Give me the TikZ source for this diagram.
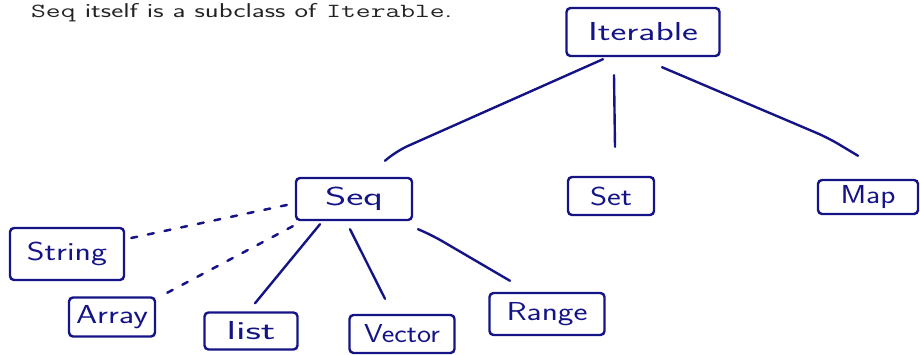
\documentclass[tikz,border=0pt]{standalone}
\usepackage{fontspec}
\usetikzlibrary{calc}
\definecolor{ink}{RGB}{20,20,135}
\definecolor{headgray}{RGB}{35,35,35}
\newcommand{\hw}[2]{\resizebox{#1pt}{\height}{#2}}
\tikzset{
  box/.style={draw=ink, line width=2.4pt, rounded corners=4pt, text=ink, font=\sffamily\fontsize{26}{26}\selectfont, inner sep=0pt},
  link/.style={draw=ink, line width=2.4pt, line cap=round, rounded corners=12pt},
  dotlink/.style={draw=ink, line width=2.5pt, line cap=round, dash pattern=on 6pt off 11pt}
}
\begin{document}
\begin{tikzpicture}[x=1pt,y=-1pt]
\useasboundingbox (0,0) rectangle (920,355);
\node[anchor=base west, inner sep=0pt, text=headgray, font=\sffamily\fontsize{20}{20}\selectfont] (head) at (31,18)
  {\resizebox{421pt}{\height}{\texttt{Seq} itself is a subclass of \texttt{Iterable}.}};
\node[box, minimum width=153pt, minimum height=48pt] (iter) at (643,32) {\hw{110}{Iterable}};
\node[box, minimum width=116pt, minimum height=42pt] (seq) at (354,199) {\hw{58}{Seq}};
\node[box, minimum width=86pt, minimum height=38pt] (set) at (611,196) {\hw{42}{Set}};
\node[box, minimum width=100pt, minimum height=34pt] (map) at (868,197) {\hw{55}{Map}};
\node[box, minimum width=114pt, minimum height=52pt] (string) at (67,254) {\hw{80}{String}};
\node[box, minimum width=86pt, minimum height=39pt] (array) at (112,317) {\hw{72}{Array}};
\node[box, minimum width=93pt, minimum height=37pt] (list) at (251,331) {\hw{49}{list}};
\node[box, minimum width=105pt, minimum height=38pt] (vector) at (402,334) {\hw{76}{Vector}};
\node[box, minimum width=115pt, minimum height=42pt] (range) at (547,314) {\hw{81}{Range}};
% Iterable children
\coordinate (a1) at ($(iter.south)+(-40,2)$);
\coordinate (a2) at ($(seq.north)+(31,-16)$);
\draw[link] (a1) -- ($(a2)+(12,-10)$) -- (a2);
\coordinate (b1) at ($(iter.south)+(-29,18)$);
\coordinate (b2) at ($(set.north)+(4,-29)$);
\draw[link] (b1) -- (b2);
\coordinate (c1) at ($(iter.south)+(19,10)$);
\coordinate (c2) at ($(map.north)+(-10,-23)$);
\draw[link] (c1) -- ($(c2)+(-30,-18)$) -- (c2);
% Seq children
\coordinate (d1) at ($(seq.south)+(-34,3)$);
\coordinate (d2) at ($(list.north)+(4,-8)$);
\draw[link] (d1) -- (d2);
\coordinate (e1) at ($(seq.south)+(-4,8)$);
\coordinate (e2) at ($(vector.north)+(-17,-15)$);
\draw[link] (e1) -- (e2);
\coordinate (f1) at ($(seq.south)+(64,8)$);
\coordinate (f2) at ($(range.north)+(-37,-11)$);
\draw[link] (f1) -- ($(f1)+(14,6)$) -- (f2);
% dotted
\coordinate (g1) at ($(seq.west)+(-8,6)$);
\coordinate (g2) at ($(string.east)+(6,-16)$);
\draw[dotlink] (g1) -- (g2);
\coordinate (h1) at ($(seq.south west)+(-2,5)$);
\coordinate (h2) at ($(array.north east)+(10,-3)$);
\draw[dotlink] (h1) -- (h2);
\end{tikzpicture}
\end{document}
